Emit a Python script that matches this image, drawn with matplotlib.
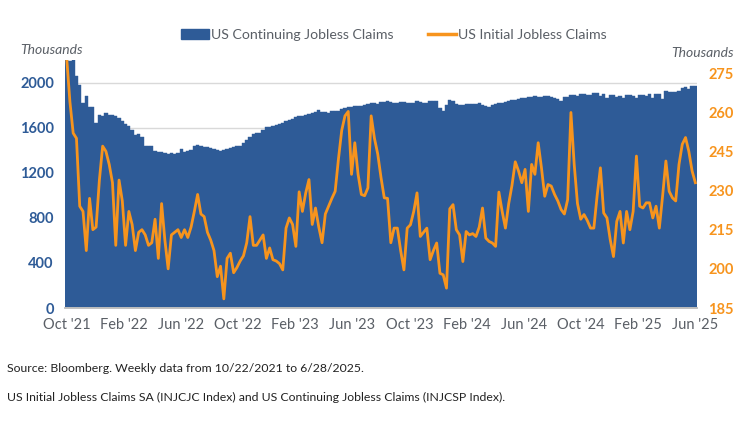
import numpy as np
import pandas as pd
import matplotlib
matplotlib.use("Agg")
import matplotlib.pyplot as plt
from matplotlib.patches import Patch
from matplotlib.lines import Line2D

# ---------------- data (thousands) ----------------
start_date = "2021-10-22"

continuing_claims = [
    2210, 2190, 2210, 2056, 1982, 1819, 1884, 1784, 1784, 1641,
    1716, 1701, 1728, 1716, 1716, 1701, 1686, 1656, 1636, 1618,
    1582, 1538, 1545, 1517, 1440, 1440, 1433, 1396, 1382, 1380,
    1375, 1366, 1375, 1370, 1375, 1410, 1380, 1390, 1405, 1440,
    1445, 1440, 1430, 1425, 1415, 1412, 1400, 1395, 1400, 1413,
    1418, 1425, 1434, 1440, 1460, 1490, 1515, 1540, 1553, 1555,
    1580, 1603, 1606, 1618, 1620, 1630, 1645, 1656, 1665, 1675,
    1690, 1700, 1707, 1716, 1725, 1730, 1735, 1754, 1738, 1740,
    1732, 1745, 1745, 1748, 1765, 1775, 1780, 1782, 1790, 1790,
    1795, 1800, 1810, 1819, 1815, 1810, 1828, 1828, 1834, 1830,
    1819, 1819, 1828, 1828, 1819, 1819, 1819, 1834, 1830, 1819,
    1819, 1834, 1834, 1840, 1775, 1745, 1801, 1849, 1834, 1810,
    1804, 1804, 1808, 1808, 1808, 1808, 1815, 1800, 1793, 1786,
    1800, 1808, 1815, 1821, 1825, 1835, 1845, 1849, 1858, 1864,
    1866, 1868, 1875, 1878, 1876, 1874, 1877, 1880, 1870, 1865,
    1855, 1840, 1868, 1875, 1893, 1890, 1885, 1900, 1900, 1893,
    1893, 1905, 1908, 1880, 1900, 1862, 1893, 1890, 1873, 1885,
    1864, 1890, 1893, 1878, 1860, 1893, 1888, 1885, 1902, 1864,
    1902, 1902, 1855, 1923, 1915, 1915, 1918, 1923, 1950, 1961,
    1940, 1973, 1973,
]

initial_claims = [
    281, 264, 252, 250, 224, 222, 207, 227, 215, 216,
    234, 247, 245, 240, 233, 209, 234, 226, 209, 222,
    217, 207, 214, 215, 213, 209, 210, 219, 204, 225,
    211, 200, 213, 214, 215, 212, 215, 212, 216, 222,
    228.5, 221, 220, 214, 211, 207, 197, 201, 188.5, 204,
    206, 198.5, 200.5, 203, 205, 210, 220, 209, 209, 211,
    213, 204, 208, 203.5, 203, 202, 199.6, 215.6, 219.5, 217,
    208.6, 229.5, 222, 229, 234.2, 217, 223.3, 216, 210, 221,
    224, 227, 229.7, 242, 253, 258.6, 260.3, 236.2, 248.3, 236.2,
    228.5, 228, 231, 258.6, 250, 244, 235, 227.2, 227, 210,
    215.6, 215.6, 207, 199.6, 215.6, 216.9, 222, 229.1, 212.4, 214,
    215.6, 203.5, 207, 209.9, 198.3, 197.7, 192.6, 223, 224.6, 215,
    213, 202.8, 214.3, 213, 213.5, 212.4, 216, 223.3, 211.8, 210.5,
    209.9, 208.6, 229.4, 222, 215.6, 225, 232, 241, 237.5, 233,
    238.1, 222, 240, 236.2, 248.3, 238.7, 227.8, 232.3, 231.7, 228.5,
    226, 222.7, 221, 226.5, 259.9, 240, 225, 219, 220.8, 218.5,
    215.6, 215.6, 228, 238.7, 221.4, 219.5, 211.2, 204.7, 218.2, 222,
    209.9, 222, 215, 222, 243.2, 224, 223.3, 225.3, 225.3, 219.5,
    224, 215.6, 228, 241.3, 229.7, 227.2, 226, 240, 247.7, 250.3,
    245, 237.5, 233,
]

x_tick_labels = ["Oct '21", "Feb '22", "Jun '22", "Oct '22", "Feb '23", "Jun '23",
                 "Oct '23", "Feb '24", "Jun '24", "Oct '24", "Feb '25", "Jun '25"]
left_ticks = [0, 400, 800, 1200, 1600, 2000]
right_ticks = [185, 200, 215, 230, 245, 260, 275]

# ---------------- styling ----------------
BLUE = "#2e5b97"
ORANGE = "#f7941d"
GRAY = "#5a5f66"
FONT = "Lato"

n = len(continuing_claims)
dates = pd.date_range(start_date, periods=n, freq="7D")
idx = np.arange(n)

fig = plt.figure(figsize=(7.44, 4.26), dpi=100)
ax = fig.add_axes([65 / 744, 1 - 308 / 426, 632 / 744, 248 / 426])
ax2 = ax.twinx()

ax.bar(idx, continuing_claims, width=1.0, color=BLUE, edgecolor=BLUE,
       linewidth=0.3, zorder=2)
ax.set_ylim(0, 2200)
ax.set_xlim(-0.5, n - 0.5)
ax.set_yticks(left_ticks)
ax.yaxis.grid(True, color="#d9d9d9", linewidth=1.0, zorder=0)
ax.set_axisbelow(True)

ax2.plot(idx, initial_claims, color=ORANGE, linewidth=2.0, zorder=3,
         solid_joinstyle="round")
ax2.set_ylim(185, 280)
ax2.set_yticks(right_ticks)

tick_pos = np.linspace(0, n - 1, len(x_tick_labels))
ax.set_xticks(tick_pos)
ax.set_xticklabels(x_tick_labels, fontsize=10.5, color=GRAY, family=FONT)

for a in (ax, ax2):
    for s in ["top", "left", "right"]:
        a.spines[s].set_visible(False)
    a.spines["bottom"].set_color("#bfbfbf")
    a.spines["bottom"].set_linewidth(1.2)
    a.tick_params(length=0)

ax.tick_params(axis="x", pad=7)
ax.tick_params(axis="y", pad=8)
for lbl in ax.get_yticklabels():
    lbl.set_color(BLUE)
    lbl.set_fontsize(10.5)
    lbl.set_fontweight("bold")
    lbl.set_family(FONT)
ax2.tick_params(axis="y", pad=8)
for lbl in ax2.get_yticklabels():
    lbl.set_color(ORANGE)
    lbl.set_fontsize(10.5)
    lbl.set_fontweight("bold")
    lbl.set_family(FONT)

fig.text(20 / 744, 1 - 50 / 426, "Thousands", fontsize=10, style="italic",
         color=GRAY, family=FONT, va="center", ha="left")
fig.text(734 / 744, 1 - 53 / 426, "Thousands", fontsize=10, style="italic",
         color=GRAY, family=FONT, va="center", ha="right")

handles = [Patch(facecolor=BLUE, edgecolor=BLUE),
           Line2D([0], [0], color=ORANGE, linewidth=2.5)]
fig.legend(handles, ["US Continuing Jobless Claims", "US Initial Jobless Claims"],
           loc="center", bbox_to_anchor=(394 / 744, 1 - 35 / 426), ncol=2,
           frameon=False, handlelength=2.0, handletextpad=0.15,
           columnspacing=2.4, prop={"family": FONT, "size": 10.2},
           labelcolor=GRAY)

fig.text(7 / 744, 1 - 368 / 426,
         "Source: Bloomberg. Weekly data from 10/22/2021 to 6/28/2025.",
         fontsize=8.8, color="#222222", family=FONT, va="center", ha="left")
fig.text(7 / 744, 1 - 397 / 426,
         "US Initial Jobless Claims SA (INJCJC Index) and US Continuing Jobless Claims (INJCSP Index).",
         fontsize=8.8, color="#222222", family=FONT, va="center", ha="left")

fig.savefig("out.png", dpi=100)
